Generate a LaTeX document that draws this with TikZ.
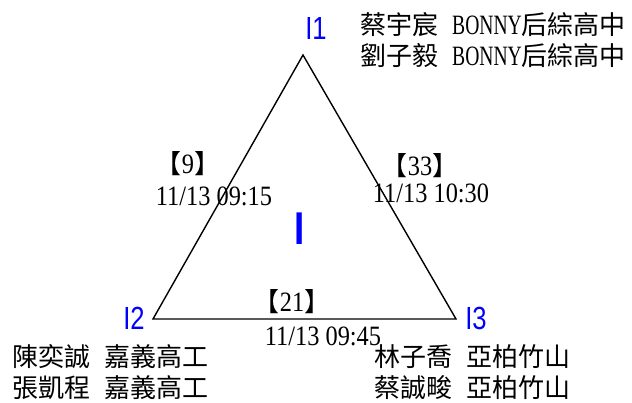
\documentclass[tikz,border=0pt]{standalone}
\usepackage{fontspec}
\setmainfont{Liberation Serif}[FakeStretch=0.87]
\newfontfamily\cjk{Noto Sans CJK TC}
\newfontfamily\bonnyfont{Liberation Serif}[FakeStretch=0.7]
\newfontfamily\lblfont{Liberation Sans}[FakeStretch=0.8]
\newcommand{\gapsp}{\hspace{14pt}}
\newcommand{\cjt}[1]{{\cjk\fontsize{26}{30}\selectfont #1}}
\begin{document}
\begin{tikzpicture}[x=1pt,y=-1pt,
  txt/.style={inner sep=0pt,font=\fontsize{28}{30}\selectfont},
  cj/.style={inner sep=0pt,font=\cjk\fontsize{26}{30}\selectfont},
  lbl/.style={inner sep=0pt,text=blue,font=\lblfont\fontsize{32}{32}\selectfont},
  edge/.style={draw=black,line width=1.4pt,line join=miter}]
\useasboundingbox (0,0) rectangle (632,403);
\coordinate (A) at (303,55);
\coordinate (B) at (153,319);
\coordinate (C) at (456,319);
\draw[edge] (A) -- (B) -- (C) -- cycle;
\node[lbl] (l1) at (316,28) {I1};
\node[lbl] (l2) at (134,318) {I2};
\node[lbl] (l3) at (476,318) {I3};
\node[inner sep=0pt,text=blue,font=\bfseries\lblfont\fontsize{46}{46}\selectfont] (center) at (300,229) {I};
\node[txt,anchor=west] (t1a) at (360,25) {\cjt{蔡宇宸}\gapsp{\bonnyfont BONNY}\cjt{后綜高中}};
\node[txt,anchor=west] (t1b) at (360,55) {\cjt{劉子毅}\gapsp{\bonnyfont BONNY}\cjt{后綜高中}};
\node[cj,anchor=west] (t2a) at (12,357) {陳奕誠\gapsp 嘉義高工};
\node[cj,anchor=west] (t2b) at (12,388) {張凱程\gapsp 嘉義高工};
\node[cj,anchor=west] (t3a) at (374,357) {林子喬\gapsp 亞柏竹山};
\node[cj,anchor=west] (t3b) at (374,388) {蔡誠畯\gapsp 亞柏竹山};
\node[txt] (s12) at (188,164) {\cjt{【}9\cjt{】}};
\node[txt] (d12) at (214,196) {11/13 09:15};
\node[txt] (s13) at (420,166) {\cjt{【}33\cjt{】}};
\node[txt] (d13) at (431,193) {11/13 10:30};
\node[txt] (s23) at (292,302) {\cjt{【}21\cjt{】}};
\node[txt] (d23) at (323,336) {11/13 09:45};
\end{tikzpicture}
\end{document}
